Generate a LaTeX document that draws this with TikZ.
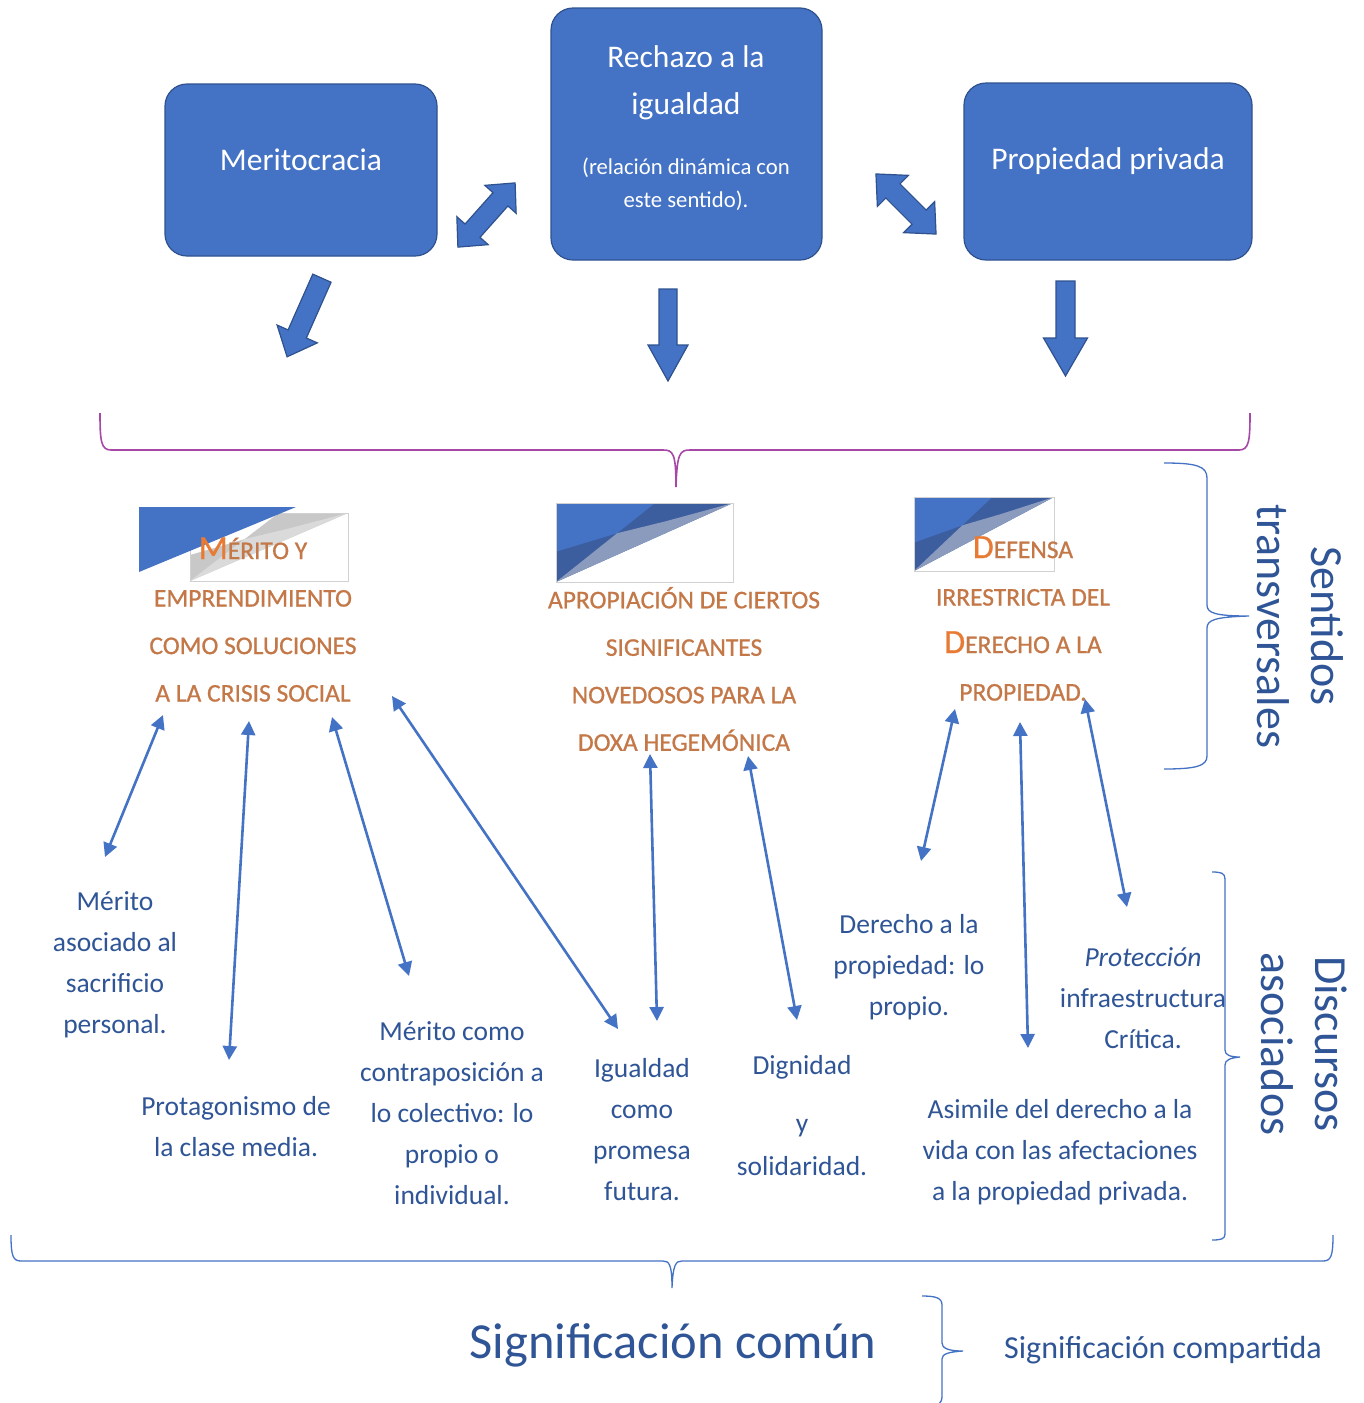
\documentclass[tikz,border=0pt]{standalone}
\usepackage{fontspec}
\setmainfont{Carlito}
\usetikzlibrary{arrows.meta}

\definecolor{boxblue}{HTML}{4472C4}
\definecolor{boxedge}{HTML}{2F528F}
\definecolor{txtblue}{HTML}{2F5597}
\definecolor{bracepurple}{RGB}{166,72,166}
\definecolor{headorange}{RGB}{196,120,72}
\definecolor{initorange}{RGB}{232,122,52}
\definecolor{decodark}{RGB}{60,93,158}
\definecolor{decolight}{RGB}{138,155,190}
\definecolor{greydark}{RGB}{200,200,200}
\definecolor{greylight}{RGB}{218,218,218}

% larger initial of a small-caps heading
\newcommand\capinit[1]{{\color{initorange}\fontsize{34}{34}\selectfont #1}}

% block arrow: centre x, centre y, angle, length, shaft, head width, head length
\newcommand\singleblock[7]{%
  \draw[blockarrow, shift={(#1,#2)}, rotate=#3]
    ({-#4/2},{-#5/2}) -- ({#4/2-#7},{-#5/2}) -- ({#4/2-#7},{-#6/2}) -- ({#4/2},0)
    -- ({#4/2-#7},{#6/2}) -- ({#4/2-#7},{#5/2}) -- ({-#4/2},{#5/2}) -- cycle;}
\newcommand\doubleblock[7]{%
  \draw[blockarrow, shift={(#1,#2)}, rotate=#3]
    ({-#4/2},0) -- ({-#4/2+#7},{-#6/2}) -- ({-#4/2+#7},{-#5/2}) -- ({#4/2-#7},{-#5/2})
    -- ({#4/2-#7},{-#6/2}) -- ({#4/2},0) -- ({#4/2-#7},{#6/2}) -- ({#4/2-#7},{#5/2})
    -- ({-#4/2+#7},{#5/2}) -- ({-#4/2+#7},{#6/2}) -- cycle;}

% decorative tile of overlapping triangles: x0, y0, width, height, bright, dark, light
\newcommand\decotile[7]{%
  \begin{scope}[shift={(#1,#2)}, x=#3pt, y=-#4pt]
    \fill[#6] (0,0) -- (1,0) -- (0,1) -- cycle;
    \fill[#5] (0,0) -- (0.56,0) -- (0.345,0.383) -- (0,0.617) -- cycle;
    \fill[#7] (0,1) -- (0.345,0.383) -- (0.615,0.234) -- (1,0) -- cycle;
    \draw[black!18, line width=0.7pt] (0,0) rectangle (1,1);
  \end{scope}}

\begin{document}
\begin{tikzpicture}[x=1pt, y=-1pt,
  topbox/.style={draw=boxedge, fill=boxblue, line width=1.2pt, rounded corners=22pt, inner sep=0pt},
  boxtext/.style={text=white, font=\fontsize{31.5}{47}\selectfont, align=center, inner sep=0pt},
  boxsmall/.style={text=white, font=\fontsize{22.7}{33}\selectfont, align=center, inner sep=0pt},
  blockarrow/.style={fill=boxblue, draw=boxedge, line width=1.2pt, line join=miter},
  heading/.style={text=headorange, font=\addfontfeatures{FakeBold=0.8}\fontsize{25.5}{47.5}\selectfont, align=center, inner sep=0pt},
  bodytext/.style={text=txtblue, font=\fontsize{27.5}{41}\selectfont, align=center, inner sep=0pt},
  sidetext/.style={text=txtblue, font=\fontsize{46}{54}\selectfont, align=center, inner sep=0pt, rotate=-90},
  thinarrow/.style={draw=boxblue, line width=2.6pt,
    {Triangle[length=14pt,width=14pt]}-{Triangle[length=14pt,width=14pt]}},
  bluebrace/.style={draw=boxblue, line width=1.3pt},
  purplebrace/.style={draw=bracepurple, line width=1.6pt}
]
\fill[white] (0,0) rectangle (1364,1403);
\useasboundingbox (0,0) rectangle (1364,1403);

% ---- top boxes
\node[topbox, minimum width=272pt, minimum height=172pt] (merbox) at (301,170) {};
\node[boxtext] (mertxt) at (301,160) {Meritocracia};
\node[topbox, minimum width=271pt, minimum height=252pt] (rechbox) at (686.5,134) {};
\node[boxtext] (rechtxt) at (686,82.5) {Rechazo a la\\igualdad};
\node[boxsmall] (rechsub) at (686,184.5) {(relación dinámica con\\este sentido).};
\node[topbox, minimum width=288pt, minimum height=177pt] (propbox) at (1108,171.5) {};
\node[boxtext] (proptxt) at (1108,161) {Propiedad privada};

% ---- block arrows
\doubleblock{486.5}{215}{48.3}{86}{20}{42}{22}
\doubleblock{906}{204}{-45}{85}{20}{44}{24}
\singleblock{304.5}{317.5}{246.1}{86}{20}{44}{25}
\singleblock{668}{335}{-90}{92}{18}{40}{36}
\singleblock{1065.5}{328.5}{-90}{95}{19}{44}{38}

% ---- purple brace under the boxes
\draw[purplebrace] (100,413) .. controls (100,441) and (101,450) .. (111,450) -- (663,450)
  .. controls (673,450) and (676,453) .. (676,487)
  .. controls (677,453) and (680,450) .. (690,450) -- (1239,450)
  .. controls (1249,450) and (1250,441) .. (1250,413);

% ---- decorative tiles behind the headings
\decotile{190}{513}{158}{68}{white}{greydark}{greylight}
\fill[boxblue] (139,507) -- (296,507) -- (139,572) -- cycle;
\decotile{556}{503}{177}{79}{boxblue}{decodark}{decolight}
\decotile{914}{497}{140}{74}{boxblue}{decodark}{decolight}

% ---- headings
\node[heading] (h1) at (253,619.5) {\capinit{M}ÉRITO Y\\EMPRENDIMIENTO\\COMO SOLUCIONES\\A LA CRISIS SOCIAL};
\node[heading] (h2) at (684,669) {APROPIACIÓN DE CIERTOS\\SIGNIFICANTES\\NOVEDOSOS PARA LA\\DOXA HEGEMÓNICA};
\node[heading] (h3) at (1023,618.5) {\capinit{D}EFENSA\\IRRESTRICTA DEL\\\capinit{D}ERECHO A LA\\PROPIEDAD.};

% ---- brace: Sentidos transversales
\draw[bluebrace] (1164,463) .. controls (1196,463) and (1207,466) .. (1207,478) -- (1207,605)
  .. controls (1207,613) and (1215,616) .. (1249,616)
  .. controls (1215,617) and (1207,620) .. (1207,628) -- (1207,756)
  .. controls (1207,766) and (1196,769) .. (1164,769);
\node[sidetext] (sent) at (1300,626) {Sentidos\\transversales};

% ---- associated discourses
\node[bodytext] (d1) at (115,965) {Mérito\\asociado al\\sacrificio\\personal.};
\node[bodytext] (d2) at (236,1126.5) {Protagonismo de\\la clase media.};
\node[bodytext] (d3) at (452,1113) {Mérito como\\contraposición a\\lo colectivo: lo\\propio o\\individual.};
\node[bodytext] (d4) at (642,1129.5) {Igualdad\\como\\promesa\\futura.};
\node[bodytext] (d5) at (802,1116) {Dignidad\\[17pt]y\\[2pt]solidaridad.};
\node[bodytext] (d6) at (909,967) {Derecho a la\\propiedad: lo\\propio.};
\node[bodytext] (d7) at (1143,998) {\itshape Protección\\infraestructura\\Crítica.};
\node[bodytext] (d8) at (1060,1152.5) {Asimile del derecho a la\\vida con las afectaciones\\a la propiedad privada.};

% ---- connector end points
\coordinate (a1t) at (163,715);  \coordinate (a1b) at (105,857);
\coordinate (a2t) at (249,721);  \coordinate (a2b) at (229,1060);
\coordinate (a3t) at (332,717);  \coordinate (a3b) at (409,976);
\coordinate (a4t) at (392,696);  \coordinate (a4b) at (618,1029);
\coordinate (a5t) at (650,754);  \coordinate (a5b) at (657,1021);
\coordinate (a6t) at (748,756);  \coordinate (a6b) at (797,1020);
\coordinate (a7t) at (955,709);  \coordinate (a7b) at (921,861);
\coordinate (a8t) at (1020,722); \coordinate (a8b) at (1028,1048);
\coordinate (a9t) at (1085,699); \coordinate (a9b) at (1127,907);
\foreach \i in {1,...,9} { \draw[thinarrow] (a\i t) -- (a\i b); }

% ---- brace: Discursos asociados
\draw[bluebrace] (1212,872) .. controls (1221,872) and (1225,873) .. (1225,879) -- (1225,1050)
  .. controls (1225,1055) and (1230,1057) .. (1240,1057)
  .. controls (1230,1058) and (1225,1060) .. (1225,1065) -- (1225,1234)
  .. controls (1225,1239) and (1221,1240) .. (1212,1240);
\node[sidetext] (disc) at (1304,1044) {Discursos\\asociados};

% ---- bottom brace
\draw[bluebrace] (11,1235) .. controls (11,1256) and (13,1261) .. (21,1261) -- (663,1261)
  .. controls (669,1261) and (672,1264) .. (672,1288)
  .. controls (673,1264) and (676,1261) .. (682,1261) -- (1323,1261)
  .. controls (1331,1261) and (1333,1256) .. (1333,1235);
\node[text=txtblue, font=\fontsize{50.5}{56}\selectfont, inner sep=0pt] (comun) at (673,1345) {Significación común};

% ---- brace: Significación compartida
\draw[bluebrace] (922,1296) .. controls (936,1296) and (942,1298) .. (942,1305) -- (942,1343)
  .. controls (942,1348) and (948,1351) .. (963,1351)
  .. controls (948,1352) and (942,1354) .. (942,1359) -- (942,1396)
  .. controls (942,1400) and (941,1402) .. (939,1404);
\node[text=txtblue, font=\fontsize{32}{38}\selectfont, inner sep=0pt] (compart) at (1163,1350) {Significación compartida};
\end{tikzpicture}
\end{document}
